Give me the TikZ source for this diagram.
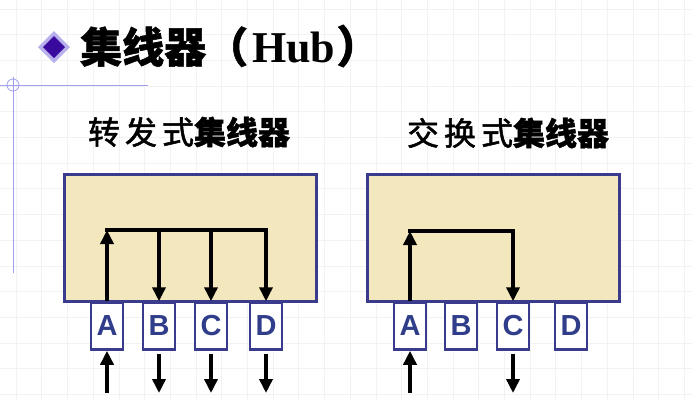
\documentclass[tikz,border=0pt]{standalone}
\usepackage{fontspec}
\setsansfont{Liberation Sans}
\newfontfamily\cjk[BoldFeatures={FakeBold=1.2}]{Noto Sans CJK SC}
\newfontfamily\cjkbrush[FakeBold=1.6]{Noto Sans CJK SC}
\newfontfamily\titleserif{Liberation Serif}
\usetikzlibrary{arrows.meta,positioning}
\definecolor{hubfill}{HTML}{F3E7BD}
\definecolor{hubline}{HTML}{3B3B8E}
\definecolor{portblue}{HTML}{2F3D8A}
\definecolor{decoline}{HTML}{A0A0F0}
\definecolor{bulletdark}{HTML}{3A0A9E}
\definecolor{bulletlight}{HTML}{B8B0EC}
\begin{document}
\begin{tikzpicture}[x=1pt,y=-1pt,
  hub/.style={rectangle, draw=hubline, fill=hubfill, line width=3pt, minimum width=252pt, minimum height=127pt},
  port/.style={rectangle, draw=hubline, fill=white, line width=2.5pt, minimum width=32pt, minimum height=47pt, inner sep=0pt, font=\sffamily\bfseries\fontsize{29}{29}\selectfont, text=portblue},
  flow/.style={-{Triangle[width=13pt,length=14pt]}, line width=4pt},
  bar/.style={line width=4pt, line cap=rect},
  caption/.style={font=\fontsize{32}{32}\selectfont},
  gridline/.style={black!5, line width=0.6pt},
  node distance=52pt
]
\useasboundingbox (0,0) rectangle (692,400);
\foreach \i in {0,...,26} \draw[gridline] (16+25.7*\i,0) -- ++(0,400);
\foreach \j in {0,...,15} \draw[gridline] (0,8.8+25.7*\j) -- ++(692,0);
\draw[decoline, line width=1pt] (13,77) -- (13,273);
\draw[decoline, line width=1pt] (0,85) -- (148,85);
\draw[decoline, line width=0.8pt] (13,85) circle (6);

\fill[bulletlight] (54,31) -- (70,47) -- (54,63) -- (38,47) -- cycle;
\fill[bulletdark] (54,36) -- (65,47) -- (54,58) -- (43,47) -- cycle;
\node[anchor=west, inner sep=0pt] (title) at (80,46) {\fontsize{42}{42}\selectfont\cjk\bfseries 集线器（\hspace{4pt}\titleserif\bfseries\fontsize{44}{44}\selectfont Hub\hspace{1pt}\cjk ）};

\node[caption] (fcap) at (189,132) {\cjkbrush 转\hspace{5pt}发\hspace{5pt}式\cjk\bfseries 集线器};
\node[caption] (scap) at (508,133) {\cjkbrush 交\hspace{5pt}换\hspace{5pt}式\cjk\bfseries 集线器};

\node[hub] (fwd) at (190,237.5) {};
\node[port] (fA) at (107,326) {A};
\node[port, right of=fA] (fB) {B};
\node[port, right of=fB] (fC) {C};
\node[port, right of=fC, node distance=55pt] (fD) {D};

\node[hub] (swt) at (493,237.5) {};
\node[port] (sA) at (410,326) {A};
\node[port, right of=sA, node distance=51pt] (sB) {B};
\node[port, right of=sB] (sC) {C};
\node[port, right of=sC, node distance=58pt] (sD) {D};

\coordinate (fy) at (0,230);
\coordinate (sy) at (0,231);
\coordinate (low) at (0,393);

\draw[flow] (fA.north) -- (fA |- fy);
\draw[bar] (fA |- fy) -- (fD |- fy);
\foreach \p in {fB,fC,fD} \draw[flow] (\p |- fy) -- (\p.north);
\draw[flow] (fA |- low) -- (fA.south);
\foreach \p in {fB,fC,fD} \draw[flow] ([yshift=-3pt]\p.south) -- (\p |- low);

\draw[flow] (sA.north) -- (sA |- sy);
\draw[bar] (sA |- sy) -- (sC |- sy);
\draw[flow] (sC |- sy) -- (sC.north);
\draw[flow] (sA |- low) -- (sA.south);
\draw[flow] ([yshift=-3pt]sC.south) -- (sC |- low);
\end{tikzpicture}
\end{document}
